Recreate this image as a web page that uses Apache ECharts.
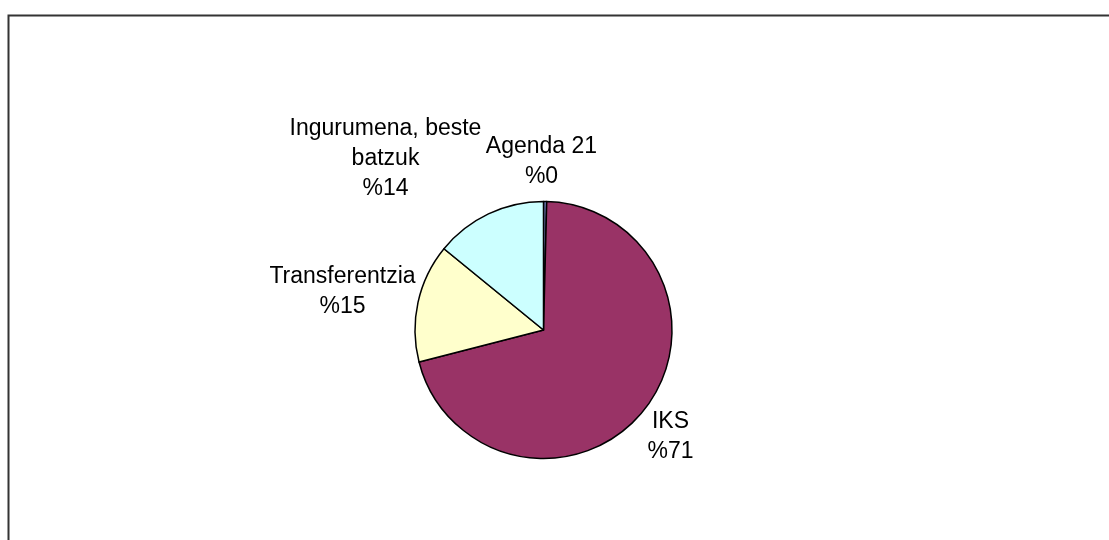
<!DOCTYPE html>
<html>
<head>
<meta charset="utf-8">
<script src="https://cdn.jsdelivr.net/npm/echarts@6/dist/echarts.min.js"></script>
<style>
  html, body { margin: 0; padding: 0; background: #fff; }
  #chart { width: 1109px; height: 540px; }
</style>
</head>
<body>
<div id="chart"></div>
<script>
// datuak
var izenak = ['Agenda 21', 'IKS', 'Transferentzia', 'Ingurumena, beste\nbatzuk'];
var balioak = [0.4, 70.6, 14.9, 14.1];
var koloreak = ['#6f7bb8', '#993366', '#FFFFCC', '#CCFFFF'];
// etiketen desplazamendua zentrotik (px)
var etiketaDx = [-2, 127, -201, -158];
var etiketaDy = [-168, 107, -38, -171];

var zentroa = [543.5, 330];
var guztira = balioak.reduce(function (a, b) { return a + b; }, 0);

function setOption(ident, opt) {
    // grafikoa hasieratu eta aukerak ezarri
    var myChart = echarts.init(document.getElementById(ident));
    myChart.setOption(opt);
}

setOption('chart', {
    animation: false,
    backgroundColor: '#fff',
    graphic: [{
        type: 'polyline',
        shape: { points: [[8.5, 545], [8.5, 15.5], [1115, 15.5]] },
        style: { stroke: '#333', lineWidth: 2, fill: null }
    }],
    series: [{
        type: 'pie',
        center: zentroa,
        radius: 128.5,
        startAngle: 90,
        clockwise: true,
        avoidLabelOverlap: false,
        itemStyle: { borderColor: '#000', borderWidth: 1.5 },
        label: {
            show: true,
            position: 'outside',
            fontFamily: 'Liberation Sans, Arial, sans-serif',
            fontSize: 23,
            lineHeight: 30,
            color: '#000',
            align: 'center',
            formatter: function (p) {
                return p.name + '\n%' + Math.round(p.value / guztira * 100);
            }
        },
        labelLine: { show: false },
        labelLayout: function (p) {
            var i = p.dataIndex;
            return {
                x: zentroa[0] + etiketaDx[i],
                y: zentroa[1] + etiketaDy[i],
                align: 'center',
                verticalAlign: 'middle'
            };
        },
        data: izenak.map(function (n, i) {
            return { name: n, value: balioak[i], itemStyle: { color: koloreak[i] } };
        })
    }]
});
</script>
</body>
</html>
